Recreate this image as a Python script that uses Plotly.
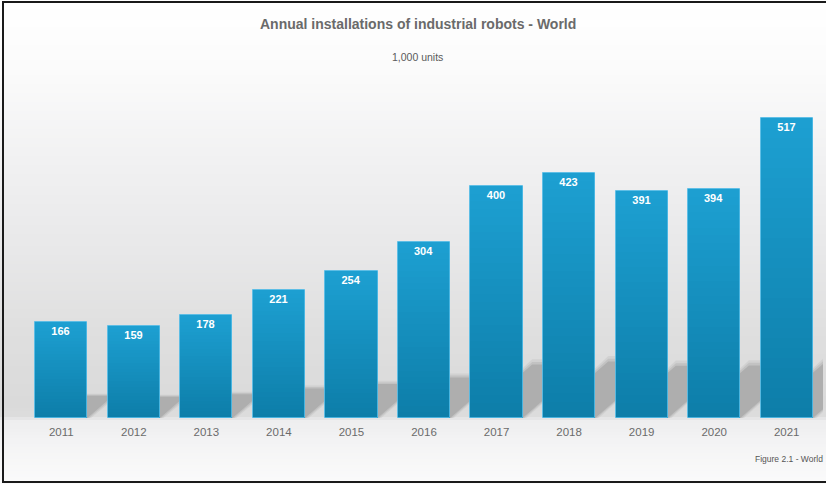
import plotly.graph_objects as go

# Annual installations of industrial robots worldwide, thousands of units
years = [2011, 2012, 2013, 2014, 2015, 2016, 2017, 2018, 2019, 2020, 2021]
installations = [166, 159, 178, 221, 254, 304, 400, 423, 391, 394, 517]

title_text = "Annual installations of industrial robots - World"
subtitle_text = "1,000 units"
caption_text = "Figure 2.1 - World"

W, H = 826, 484
M_L, M_R, M_T, M_B = 25, 3, 20, 66
PLOT_W = W - M_L - M_R
PLOT_H = H - M_T - M_B
Y_MAX = 686
BAR_W = 0.72
FONT = "Liberation Sans, Arial, sans-serif"


def px_x(px):
    """Figure pixel column -> paper x."""
    return (px - M_L) / PLOT_W


def px_y(py):
    """Figure pixel row (from top) -> paper y."""
    return (H - M_B - py) / PLOT_H


def lerp(c0, c1, t):
    return tuple(round(a + (b - a) * t) for a, b in zip(c0, c1))


def rgb(c):
    return "rgb(%d,%d,%d)" % c


shapes = []

# soft grey backdrop: darkens toward the floor line, light floor underneath
stops = [(0, (255, 255, 255)), (70, (251, 251, 251)), (150, (242, 242, 243)),
         (250, (232, 232, 233)), (330, (223, 223, 223)), (405, (218, 218, 218)),
         (418, (221, 221, 221)), (419, (237, 237, 238)), (440, (243, 243, 244)),
         (484, (251, 251, 251))]
band = 3
for top in range(0, H, band):
    mid = top + band / 2
    for (y0, c0), (y1, c1) in zip(stops[:-1], stops[1:]):
        if y0 <= mid <= y1:
            col = lerp(c0, c1, (mid - y0) / max(y1 - y0, 1))
            break
    shapes.append(dict(type="rect", xref="paper", yref="paper", layer="below",
                       x0=px_x(0), x1=px_x(W), y0=px_y(top + band + 0.5), y1=px_y(top),
                       fillcolor=rgb(col), line=dict(width=0)))

# floor shadows cast back and to the right of each bar, with a soft edge
for yr, v in zip(years, installations):
    xl, xr = yr - BAR_W / 2, yr + BAR_W / 2
    s = 1.1 * v / max(installations)
    d = 0.23 * v
    for grow, col in ((0.10, "rgba(175,175,175,0.25)"), (0.05, "rgba(175,175,175,0.45)"),
                      (0.0, "rgb(174,174,174)")):
        path = "M %f,0 L %f,0 L %f,%f L %f,%f Z" % (
            xl, xr + grow * 0.5, xr + s + grow, d * (1 + grow), xl + s, d * (1 + grow))
        shapes.append(dict(type="path", xref="x", yref="y", layer="below", path=path,
                           fillcolor=col, line=dict(width=0)))

# frame around the figure
frame = dict(color="#1a1a1a", width=2)
shapes += [
    dict(type="line", xref="paper", yref="paper", x0=px_x(2), x1=px_x(W), y0=px_y(2), y1=px_y(2), line=frame),
    dict(type="line", xref="paper", yref="paper", x0=px_x(3), x1=px_x(3), y0=px_y(1), y1=px_y(483), line=frame),
    dict(type="line", xref="paper", yref="paper", x0=px_x(2), x1=px_x(W), y0=px_y(482), y1=px_y(482), line=frame),
]

fig = go.Figure()

# bars with a vertical gradient: stacked slices from dark bottom to light top
top_col = (29, 160, 210)
bot_col = (13, 125, 168)
N = 30
for k in range(N):
    col = rgb(lerp(bot_col, top_col, (k + 0.5) / N))
    fig.add_trace(go.Bar(
        x=years, y=[v / N for v in installations], base=[v * k / N for v in installations],
        width=BAR_W, marker=dict(color=col, line=dict(width=0)),
        hoverinfo="skip", showlegend=False))

# bar outline, carrying the value labels inside the bar tops
fig.add_trace(go.Bar(
    x=years, y=installations, width=BAR_W,
    marker=dict(color="rgba(0,0,0,0)", line=dict(color="rgba(80,185,228,0.9)", width=1)),
    text=[str(v) for v in installations], textposition="inside", insidetextanchor="end",
    textangle=0, constraintext="none",
    insidetextfont=dict(family=FONT, size=11, color="white", weight="bold"),
    hovertemplate="%{x}: %{y}<extra></extra>", showlegend=False))

annotations = [
    dict(text="<b>" + title_text + "</b>", x=px_x(418), y=px_y(24), xref="paper", yref="paper",
         showarrow=False, xanchor="center", yanchor="middle",
         font=dict(family=FONT, size=14, color="#6a6a6a")),
    dict(text=subtitle_text, x=px_x(417), y=px_y(57), xref="paper", yref="paper",
         showarrow=False, xanchor="center", yanchor="middle",
         font=dict(family=FONT, size=10.5, color="#5a5a5a")),
    dict(text=caption_text, x=px_x(825), y=px_y(459), xref="paper", yref="paper",
         showarrow=False, xanchor="right", yanchor="middle",
         font=dict(family=FONT, size=8.5, color="#555555")),
]

fig.update_layout(
    width=W, height=H,
    margin=dict(l=M_L, r=M_R, t=M_T, b=M_B, pad=0),
    paper_bgcolor="white", plot_bgcolor="rgba(0,0,0,0)",
    barmode="overlay", bargap=0,
    shapes=shapes, annotations=annotations,
    font=dict(family=FONT),
    xaxis=dict(range=[years[0] - 0.5, years[-1] + 0.5], tickvals=years,
               ticktext=[str(y) for y in years], showgrid=False, zeroline=False,
               showline=False, ticks="", ticklabelstandoff=5,
               tickfont=dict(size=11.5, color="#6b6b6b")),
    yaxis=dict(range=[0, Y_MAX], visible=False, showgrid=False, zeroline=False),
)

fig.write_html("out.html")
